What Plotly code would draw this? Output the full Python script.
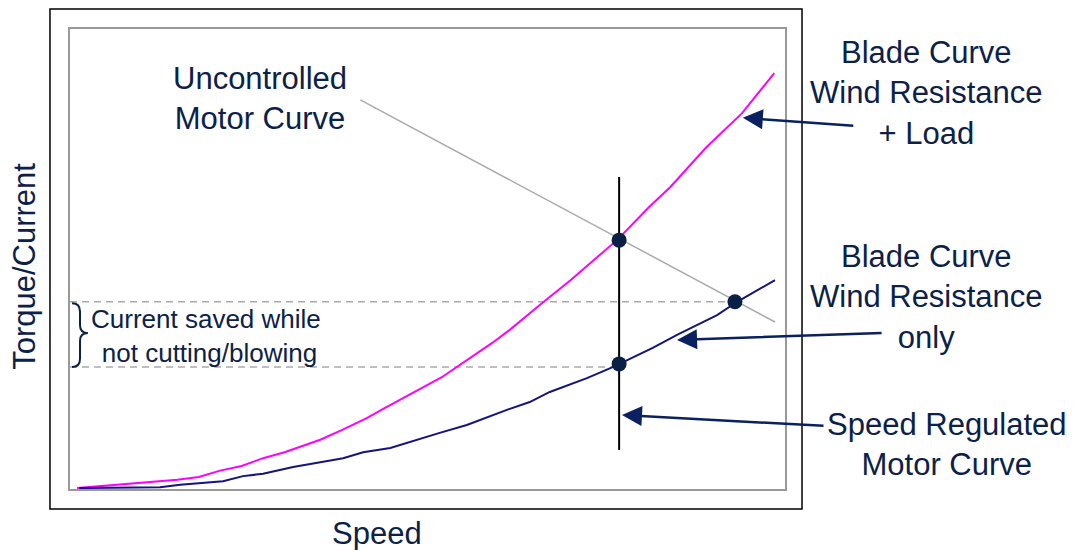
import plotly.graph_objects as go

# ---- data ----
load_speed = [1, 15, 18, 21, 24, 27, 30, 35, 38, 41.5, 44, 52, 59, 61.5, 66, 70, 76.5, 81, 84, 89, 94, 98.5]
load_torque = [0.2, 2, 2.6, 4, 5, 6.7, 8, 10.7, 12.8, 15.4, 17.6, 24.3, 31.7, 34.6, 40.4, 45.4, 54.1, 61.3, 65.7, 74.3, 81.7, 90.4]

wind_speed = [1.3, 12.6, 15.4, 21.4, 24.2, 27.0, 31.2, 35.4, 38.2, 41.0, 44.8, 51.7, 55.5, 61.1, 64.3, 67.1, 72.3, 75.9, 81.5, 84.9, 90.5, 93.3, 98.6]
wind_torque = [0.2, 0.4, 0.9, 1.7, 2.8, 3.3, 4.8, 5.9, 6.7, 8.0, 8.9, 12.2, 13.9, 17.2, 18.9, 21.1, 24.1, 26.5, 30.7, 33.5, 37.8, 40.7, 45.4]

motor_speed = [40.6, 98.6]
motor_torque = [84.6, 36.3]

regulated_speed = [76.8, 76.8]
regulated_torque = [67.8, 8.5]

op_speed = [76.8, 93.0, 76.8]
op_torque = [54.1, 40.7, 27.2]

saved_level_hi = 40.7
saved_level_lo = 26.5

NAVY_TXT = "#0c2148"
FONT = "Liberation Sans, Arial, sans-serif"

fig = go.Figure()

# dashed reference levels
fig.add_trace(go.Scatter(x=[0, op_speed[1]], y=[saved_level_hi, saved_level_hi], mode="lines",
                         line=dict(color="#aaaaaa", width=1.5, dash="7px,5px"), hoverinfo="skip"))
fig.add_trace(go.Scatter(x=[0, op_speed[2]], y=[saved_level_lo, saved_level_lo], mode="lines",
                         line=dict(color="#aaaaaa", width=1.5, dash="7px,5px"), hoverinfo="skip"))

fig.add_trace(go.Scatter(x=motor_speed, y=motor_torque, mode="lines",
                         line=dict(color="#aaaaaa", width=1.5)))
fig.add_trace(go.Scatter(x=load_speed, y=load_torque, mode="lines",
                         line=dict(color="#ff00ff", width=2)))
fig.add_trace(go.Scatter(x=wind_speed, y=wind_torque, mode="lines",
                         line=dict(color="#14147f", width=2)))
fig.add_trace(go.Scatter(x=regulated_speed, y=regulated_torque, mode="lines",
                         line=dict(color="#000000", width=2)))
fig.add_trace(go.Scatter(x=op_speed, y=op_torque, mode="markers",
                         marker=dict(color="#0a1f44", size=15)))

# brace
fig.add_shape(type="path", xref="x", yref="y",
              path="M 0.28,40.4 Q 1.4,40.4 1.4,38.6 L 1.4,35.6 Q 1.4,33.9 2.5,33.9 "
                   "Q 1.4,33.9 1.4,32.2 L 1.4,28.3 Q 1.4,26.5 0.28,26.5",
              line=dict(color=NAVY_TXT, width=2))

# outer frame
fig.add_shape(type="rect", xref="paper", yref="paper",
              x0=-0.028, x1=1.0238, y0=-0.0435, y1=1.0435,
              line=dict(color="#000000", width=1.5))

ARROW = "#0a2060"
arrows = [
    (94.1, 80.7, 112, 8),
    (84.9, 32.4, 206, -7),
    (77.2, 16.1, 203, 11),
]
for (tx, ty, axp, ayp) in arrows:
    fig.add_annotation(x=tx, y=ty, xref="x", yref="y", ax=axp, ay=ayp, text="",
                       showarrow=True, arrowhead=2, arrowsize=1.6, arrowwidth=2.5,
                       arrowcolor=ARROW, standoff=0)

def label(text, x, y, size=31, angle=0):
    fig.add_annotation(x=x, y=y, xref="paper", yref="paper", text=text, showarrow=False,
                       xanchor="center", yanchor="middle", textangle=angle,
                       font=dict(family=FONT, size=size, color=NAVY_TXT))

label("Uncontrolled<br>Motor Curve", 0.2657, 0.849)
label("Blade Curve<br>Wind Resistance<br>+ Load", 1.1986, 0.861)
label("Blade Curve<br>Wind Resistance<br>only", 1.1986, 0.417)
label("Speed Regulated<br>Motor Curve", 1.2266, 0.0957)
label("Current saved while<br> not cutting/blowing", 0.190, 0.3326, size=26)
label("Speed", 0.4294, -0.097)
label("Torque/Current", -0.063, 0.485, angle=-90)

# page body has an 8px margin, so the figure starts 8px in from the window edge
fig.update_layout(
    width=1068, height=542,
    margin=dict(l=62, r=291, t=21, b=61),
    paper_bgcolor="white", plot_bgcolor="white",
    showlegend=False,
    xaxis=dict(range=[0, 100], showgrid=False, zeroline=False, showticklabels=False, ticks="",
               showline=True, mirror=True, linecolor="#999999", linewidth=2),
    yaxis=dict(range=[0, 100], showgrid=False, zeroline=False, showticklabels=False, ticks="",
               showline=True, mirror=True, linecolor="#999999", linewidth=2),
)

fig.write_html("out.html")
